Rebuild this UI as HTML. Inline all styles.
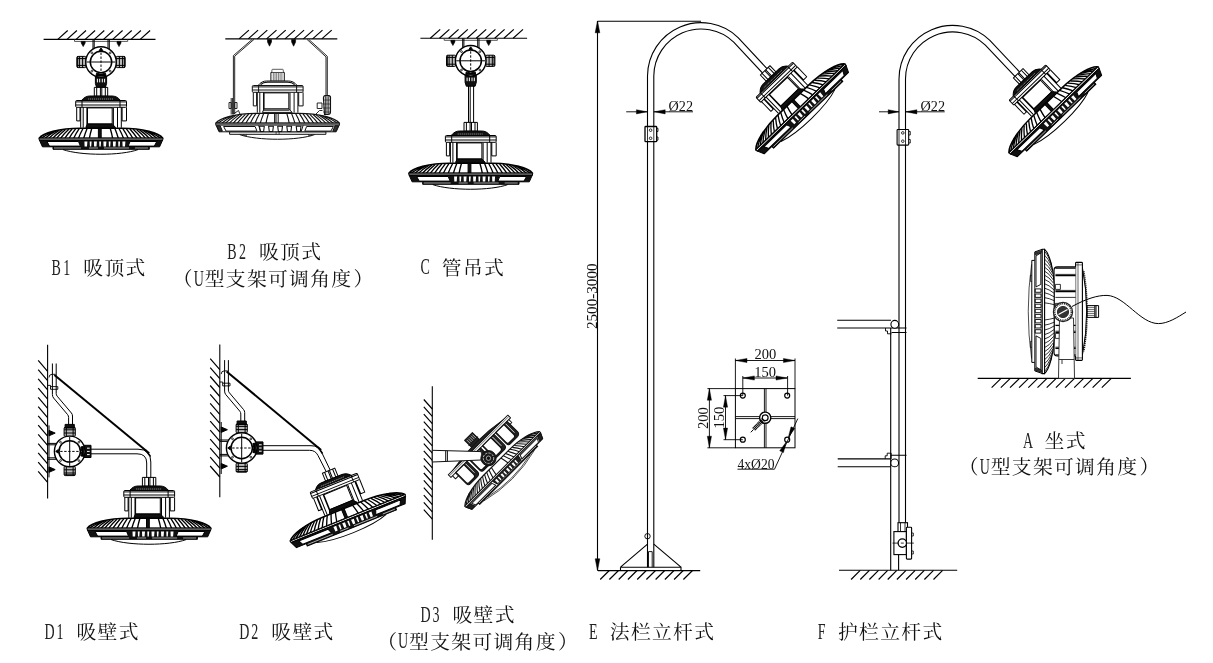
<!DOCTYPE html><html lang="zh"><head><meta charset="utf-8"><title>安装方式</title><style>html,body{margin:0;padding:0;background:#fff}svg{display:block}text{font-family:"Liberation Serif","Noto Serif CJK SC",serif;fill:#111}</style></head><body><svg width="1213" height="663" viewBox="0 0 1213 663"><rect width="100%" height="100%" fill="#fff"/><g stroke="#000" stroke-width="1.1" fill="none"><path d="M43.6 39.4H155.5"/><path d="M57.8 39.4l9.9 -8.9M67.0 39.4l9.9 -8.9M76.1 39.4l9.9 -8.9M85.2 39.4l9.9 -8.9M94.4 39.4l9.9 -8.9M103.5 39.4l9.9 -8.9M112.7 39.4l9.9 -8.9M121.8 39.4l9.9 -8.9M131.0 39.4l9.9 -8.9M140.2 39.4l9.9 -8.9" stroke-width="1.2"/></g><g fill="none" stroke="#000" stroke-width="1"><path d="M74.5 39.699999999999996V41.4H127.7V39.699999999999996" stroke="#555"/><path d="M81.2 41.4H85.2V43.0L83.2 46.6L81.2 43.0Z" fill="#000" stroke-width="0.6"/><path d="M117 41.4H121V43.0L119 46.6L117 43.0Z" fill="#000" stroke-width="0.6"/><path d="M93 39.4V50M94.2 39.4V49M108 39.4V49M109.3 39.4V50"/></g><g transform="translate(101 62)" fill="none" stroke="#000" stroke-width="1"><g transform="scale(-1,1)"><rect x="15" y="-5.6" width="9.2" height="11.2" fill="#bbb" rx="1.2"/><path d="M23.4-5.6V5.6M21.6-5.6V5.6M18.4-5.6V5.6M15 -3.4H24M15 3.4H24"/></g><g transform="scale(1,1)"><rect x="15" y="-5.6" width="9.2" height="11.2" fill="#bbb" rx="1.2"/><path d="M23.4-5.6V5.6M21.6-5.6V5.6M18.4-5.6V5.6M15 -3.4H24M15 3.4H24"/></g><path d="M-5.6 11.5H5.6V21.5L4.4 25.4H-4.4L-5.6 21.5Z" fill="#111"/><path d="M-3.6 16.8V20.4M-1.3 16.8V20.4M1.3 16.8V20.4M3.6 16.8V20.4" stroke="#fff" stroke-width="1"/><circle r="15.3" fill="#fff" stroke-width="1.4"/><circle r="10.7" stroke-width="1.5"/><path d="M-14.5 0H14.5"/><path d="M0-9.5V9.5" stroke-dasharray="2.4 1.6"/><circle cx="9.2" cy="9.2" r="0.9" stroke-width="0.8"/><circle cx="-9.2" cy="9.2" r="0.9" stroke-width="0.8"/><circle cx="-9.2" cy="-9.2" r="0.9" stroke-width="0.8"/><circle cx="9.2" cy="-9.2" r="0.9" stroke-width="0.8"/><path d="M-1.8-11.4L0-14L1.8-11.4Z" fill="#000"/><path d="M-4.5 11.2A12 12 0 0 0 4.5 11.2L5 14H-5Z" fill="#000"/></g><g transform="translate(101 138.2)" fill="none" stroke="#000" stroke-width="1.0" stroke-linejoin="round"><rect x="-6.7" y="-50.8" width="13.4" height="8.9" fill="#fff"/><path d="M-4.3-50.8V-42M-0.6-50.8V-42M0.8-50.8V-42M4.3-50.8V-42"/><path d="M-19.5-37.7C-17-41 -14-42.2 -11-42.2H11C14-42.2 17-41 19.5-37.7Z" fill="#111"/><path d="M-13-39.2H12" stroke="#fff" stroke-width="0.5" stroke-dasharray="1.2 0.8"/><rect x="-25.3" y="-37.7" width="50.8" height="6.8" rx="1" fill="#fff"/><path d="M-25.3-36.3H25.5M-25.3-33.2H25.5M-19-37.7V-30.9M19-37.7V-30.9"/><path d="M-24.3-30.9V-17.3H-21V-30.9M-20.3-30.9V-10.5M-17.8-30.9V-10.5M-14.1-30.9V-11M-13.5-30.3V-14.2H11.2V-30.3Z" /><path d="M25.5-30.9V-17.3H21.1V-30.9M20.3-30.9V-10.5M16.5-30.9V-10.5M12.4-30.3V-11"/><path d="M-15.2-10.8L-13.5-14.2H11.2L14.6-10.8Z" fill="#111"/><path d="M-61.8 0C-58-5 -42-9.9 -21-9.9H21C42-9.9 58-5 61.8 0Z" fill="#fff" stroke-width="1.60"/><path d="M-9.2 -9.9Q-10.8 -4.4 -11.6 0M9.2 -9.9Q10.8 -4.4 11.6 0M-13.9 -9.8Q-16.1 -4.4 -17.3 0M13.9 -9.8Q16.1 -4.4 17.3 0M-18.0 -9.7Q-20.9 -4.4 -22.5 0M18.0 -9.7Q20.9 -4.4 22.5 0M-21.8 -9.6Q-25.4 -4.3 -27.3 0M21.8 -9.6Q25.4 -4.3 27.3 0M-25.4 -9.4Q-29.6 -4.2 -31.8 0M25.4 -9.4Q29.6 -4.2 31.8 0M-28.9 -9.2Q-33.6 -4.1 -36.1 0M28.9 -9.2Q33.6 -4.1 36.1 0M-32.2 -8.9Q-37.5 -4.0 -40.3 0M32.2 -8.9Q37.5 -4.0 40.3 0M-35.5 -8.7Q-41.2 -3.9 -44.3 0M35.5 -8.7Q41.2 -3.9 44.3 0M-38.6 -8.3Q-44.9 -3.7 -48.2 0M38.6 -8.3Q44.9 -3.7 48.2 0M-41.7 -7.9Q-48.4 -3.6 -52.1 0M41.7 -7.9Q48.4 -3.6 52.1 0M-44.7 -7.5Q-51.9 -3.4 -55.8 0M44.7 -7.5Q51.9 -3.4 55.8 0M-47.6 -6.9Q-55.3 -3.1 -59.5 0M47.6 -6.9Q55.3 -3.1 59.5 0" stroke-width="1.35"/><path d="M-2.6-10V0H0.2V-10Z" fill="#111"/><rect x="-61.8" y="0" width="123.6" height="1.9" fill="#fff"/><path d="M-61.6 1.9L-58.6 8.6H-48V11.1H48.3V8.6H58.6L61.6 1.9Z" fill="#111"/><path d="M-54 3.3H-22.5L-20.6 7.9H-51.5Z" fill="#fff"/><path d="M29 3.3H55.8L53.3 7.9H27.2Z" fill="#fff"/><path d="M-16.6 3.2h3.0l-0.4 5h-2.4zM-11.3 3.2h1.9l-0.4 5h-1.3zM-7.1 3.2h3.0l-0.4 5h-2.4zM-1.8 3.2h1.9l-0.4 5h-1.3zM2.4 3.2h3.0l-0.4 5h-2.4zM7.7 3.2h1.9l-0.4 5h-1.3zM11.9 3.2h3.0l-0.4 5h-2.4zM17.2 3.2h1.9l-0.4 5h-1.3zM21.4 3.2h3.0l-0.4 5h-2.4z" fill="#fff" stroke="none"/><path d="M-47 9.8H-20M-12 9.8H-3M3 9.8H28M34 9.8H47" stroke="#fff" stroke-width="0.6"/><path d="M-38 11.4C-20 17.6 20 17.6 37 11.4"/></g><g stroke="#000" stroke-width="1.1" fill="none"><path d="M225.3 38.9H337.3"/><path d="M239.0 38.9l9.9 -8.8M248.2 38.9l9.9 -8.8M257.4 38.9l9.9 -8.8M266.6 38.9l9.9 -8.8M275.8 38.9l9.9 -8.8M285.0 38.9l9.9 -8.8M294.2 38.9l9.9 -8.8M303.4 38.9l9.9 -8.8M312.6 38.9l9.9 -8.8M321.8 38.9l9.9 -8.8" stroke-width="1.2"/><path d="M267.5 39.4H271.5V42L269.5 46.2L267.5 42ZM291.6 39.4H295.6V42L293.6 46.2L291.6 42Z" fill="#000" stroke-width="0.6"/></g><g transform="translate(277.6 123.2)" fill="none" stroke="#111" stroke-width="1.0" stroke-linejoin="round"><rect x="-6.7" y="-50.8" width="13.4" height="8.9" fill="#fff"/><path d="M-4.3-50.8V-42M-2.6-50.8V-42M-0.9-50.8V-42M0.8-50.8V-42M2.5-50.8V-42M4.3-50.8V-42" stroke="#777"/><path d="M-19.5-37.7C-17-41 -14-42.2 -11-42.2H11C14-42.2 17-41 19.5-37.7Z" fill="#fff"/><path d="M-17-38.6C-15-40.6 -13-41 -10-41H10C13-41 15-40.6 17-38.6" stroke-width="1.3"/><rect x="-25.3" y="-37.7" width="50.8" height="6.8" rx="1" fill="#fff"/><path d="M-25.3-36.3H25.5M-25.3-33.2H25.5M-19-37.7V-30.9M19-37.7V-30.9"/><path d="M-24.3-30.9V-17.3H-21V-30.9M-20.3-30.9V-10.5M-17.8-30.9V-10.5M-14.1-30.9V-11M-13.5-30.3V-14.2H11.2V-30.3Z" /><path d="M25.5-30.9V-17.3H21.1V-30.9M20.3-30.9V-10.5M16.5-30.9V-10.5M12.4-30.3V-11"/><path d="M-15.2-10.8L-13.5-14.2H11.2L14.6-10.8ZM-13.8-13H11.6" fill="#fff"/><path d="M-61.8 0C-58-5 -42-9.9 -21-9.9H21C42-9.9 58-5 61.8 0Z" fill="#fff" stroke-width="1.35"/><path d="M-9.2 -9.9Q-10.8 -4.4 -11.6 0M9.2 -9.9Q10.8 -4.4 11.6 0M-13.9 -9.8Q-16.1 -4.4 -17.3 0M13.9 -9.8Q16.1 -4.4 17.3 0M-18.0 -9.7Q-20.9 -4.4 -22.5 0M18.0 -9.7Q20.9 -4.4 22.5 0M-21.8 -9.6Q-25.4 -4.3 -27.3 0M21.8 -9.6Q25.4 -4.3 27.3 0M-25.4 -9.4Q-29.6 -4.2 -31.8 0M25.4 -9.4Q29.6 -4.2 31.8 0M-28.9 -9.2Q-33.6 -4.1 -36.1 0M28.9 -9.2Q33.6 -4.1 36.1 0M-32.2 -8.9Q-37.5 -4.0 -40.3 0M32.2 -8.9Q37.5 -4.0 40.3 0M-35.5 -8.7Q-41.2 -3.9 -44.3 0M35.5 -8.7Q41.2 -3.9 44.3 0M-38.6 -8.3Q-44.9 -3.7 -48.2 0M38.6 -8.3Q44.9 -3.7 48.2 0M-41.7 -7.9Q-48.4 -3.6 -52.1 0M41.7 -7.9Q48.4 -3.6 52.1 0M-44.7 -7.5Q-51.9 -3.4 -55.8 0M44.7 -7.5Q51.9 -3.4 55.8 0M-47.6 -6.9Q-55.3 -3.1 -59.5 0M47.6 -6.9Q55.3 -3.1 59.5 0" stroke-width="1.15"/><path d="M-3-10V0M-1.6-10V0M0.6-10V0"/><rect x="-61.8" y="0" width="123.6" height="1.9" fill="#fff"/><path d="M-61.6 1.9L-58.6 8.6H-48V11.1H48.3V8.6H58.6L61.6 1.9Z" fill="#fff"/><path d="M-60.8 2.6L-58.4 8H-55.2L-57.4 2.6ZM60.8 2.6L58.4 8H55.2L57.4 2.6Z" fill="#333"/><path d="M-48 8.6H48.3" stroke-width="1.3"/><path d="M-54 3.3H-22.5L-20.6 7.9H-51.5ZM29 3.3H55.8L53.3 7.9H27.2ZM-19 2.2L-16.8 8.5M25.5 2.2L23.5 8.5"/><path d="M-18.1 3.1h4.8l-0.7 5.2h-3.4zM-9.0 3.1h4.8l-0.7 5.2h-3.4zM0.1 3.1h4.8l-0.7 5.2h-3.4zM9.2 3.1h4.8l-0.7 5.2h-3.4zM18.6 3.1h4.8l-0.7 5.2h-3.4z" stroke-width="1.10"/><path d="M-34 11.1V12.4H-31V11.1M31 11.1V12.4H34V11.1M-1.5 8.6V11.1M1.5 8.6V11.1" stroke-width="0.7"/><path d="M-38 11.4C-20 17.6 20 17.6 37 11.4"/></g><g stroke="#333" stroke-width="0.8" fill="#fff"><rect x="271.9" y="69.3" width="11.4" height="3.2" rx="0.8"/></g><g stroke="#111" stroke-width="0.9" fill="none"><path d="M252.2 39.4L233.4 55.6V114M254 39.4L234.7 56.2V114"/><path d="M308.8 39.4L327.3 56.3V114M307 39.4L326 56.9V114"/><path d="M231.2 98V114.5M232.6 98V114.5M229 102.5H231.2V108.5H229ZM234.7 102.5H237V108.5H234.7ZM233 114.3L238.5 110.5L240 114.3" /><path d="M323.5 99.5Q323 96 325 95.5H329Q331 96 330.5 99V112Q330.5 114.5 328 114.5H324.5Z" fill="#fff" stroke-width="1.1"/><path d="M325.3 96V114M327 96V114M328.8 96V114" stroke-width="0.9"/><path d="M323 100H331M323 104H331M323 108H331M323 112H331" stroke-width="0.6"/><path d="M317.2 103H322V108.5H317.2ZM316 114L319.5 110.5H322.5"/></g><g stroke="#000" stroke-width="1.1" fill="none"><path d="M420.4 38.3H527.1"/><path d="M430.3 38.3l9.9 -8.9M439.5 38.3l9.9 -8.9M448.7 38.3l9.9 -8.9M457.9 38.3l9.9 -8.9M467.1 38.3l9.9 -8.9M476.3 38.3l9.9 -8.9M485.5 38.3l9.9 -8.9M494.7 38.3l9.9 -8.9M503.9 38.3l9.9 -8.9M513.1 38.3l9.9 -8.9" stroke-width="1.2"/></g><g fill="none" stroke="#000" stroke-width="1"><path d="M444.2 38.599999999999994V40.3H497.4V38.599999999999994" stroke="#555"/><path d="M450.9 40.3H454.9V41.9L452.9 45.5L450.9 41.9Z" fill="#000" stroke-width="0.6"/><path d="M486.7 40.3H490.7V41.9L488.7 45.5L486.7 41.9Z" fill="#000" stroke-width="0.6"/><path d="M462.7 38.3V48.8M463.9 38.3V47.8M477.7 38.3V47.8M479.0 38.3V48.8"/></g><g transform="translate(470.7 60.8)" fill="none" stroke="#000" stroke-width="1"><g transform="scale(-1,1)"><rect x="15" y="-5.6" width="9.2" height="11.2" fill="#bbb" rx="1.2"/><path d="M23.4-5.6V5.6M21.6-5.6V5.6M18.4-5.6V5.6M15 -3.4H24M15 3.4H24"/></g><g transform="scale(1,1)"><rect x="15" y="-5.6" width="9.2" height="11.2" fill="#bbb" rx="1.2"/><path d="M23.4-5.6V5.6M21.6-5.6V5.6M18.4-5.6V5.6M15 -3.4H24M15 3.4H24"/></g><path d="M-5.6 11.5H5.6V21.5L4.4 25.4H-4.4L-5.6 21.5Z" fill="#111"/><path d="M-3.6 16.8V20.4M-1.3 16.8V20.4M1.3 16.8V20.4M3.6 16.8V20.4" stroke="#fff" stroke-width="1"/><circle r="15.3" fill="#fff" stroke-width="1.4"/><circle r="10.7" stroke-width="1.5"/><path d="M-14.5 0H14.5"/><path d="M0-9.5V9.5" stroke-dasharray="2.4 1.6"/><circle cx="9.2" cy="9.2" r="0.9" stroke-width="0.8"/><circle cx="-9.2" cy="9.2" r="0.9" stroke-width="0.8"/><circle cx="-9.2" cy="-9.2" r="0.9" stroke-width="0.8"/><circle cx="9.2" cy="-9.2" r="0.9" stroke-width="0.8"/><path d="M-1.8-11.4L0-14L1.8-11.4Z" fill="#000"/><path d="M-4.5 11.2A12 12 0 0 0 4.5 11.2L5 14H-5Z" fill="#000"/></g><path d="M468.5 86V122.4M470.2 86V122.4M473.6 86V122.4" stroke="#000" stroke-width="1" fill="none"/><g transform="translate(470.7 173.2)" fill="none" stroke="#000" stroke-width="1.0" stroke-linejoin="round"><rect x="-6.7" y="-50.8" width="13.4" height="8.9" fill="#fff"/><path d="M-4.3-50.8V-42M-0.6-50.8V-42M0.8-50.8V-42M4.3-50.8V-42"/><path d="M-19.5-37.7C-17-41 -14-42.2 -11-42.2H11C14-42.2 17-41 19.5-37.7Z" fill="#111"/><path d="M-13-39.2H12" stroke="#fff" stroke-width="0.5" stroke-dasharray="1.2 0.8"/><rect x="-25.3" y="-37.7" width="50.8" height="6.8" rx="1" fill="#fff"/><path d="M-25.3-36.3H25.5M-25.3-33.2H25.5M-19-37.7V-30.9M19-37.7V-30.9"/><path d="M-24.3-30.9V-17.3H-21V-30.9M-20.3-30.9V-10.5M-17.8-30.9V-10.5M-14.1-30.9V-11M-13.5-30.3V-14.2H11.2V-30.3Z" /><path d="M25.5-30.9V-17.3H21.1V-30.9M20.3-30.9V-10.5M16.5-30.9V-10.5M12.4-30.3V-11"/><path d="M-15.2-10.8L-13.5-14.2H11.2L14.6-10.8Z" fill="#111"/><path d="M-61.8 0C-58-5 -42-9.9 -21-9.9H21C42-9.9 58-5 61.8 0Z" fill="#fff" stroke-width="1.60"/><path d="M-9.2 -9.9Q-10.8 -4.4 -11.6 0M9.2 -9.9Q10.8 -4.4 11.6 0M-13.9 -9.8Q-16.1 -4.4 -17.3 0M13.9 -9.8Q16.1 -4.4 17.3 0M-18.0 -9.7Q-20.9 -4.4 -22.5 0M18.0 -9.7Q20.9 -4.4 22.5 0M-21.8 -9.6Q-25.4 -4.3 -27.3 0M21.8 -9.6Q25.4 -4.3 27.3 0M-25.4 -9.4Q-29.6 -4.2 -31.8 0M25.4 -9.4Q29.6 -4.2 31.8 0M-28.9 -9.2Q-33.6 -4.1 -36.1 0M28.9 -9.2Q33.6 -4.1 36.1 0M-32.2 -8.9Q-37.5 -4.0 -40.3 0M32.2 -8.9Q37.5 -4.0 40.3 0M-35.5 -8.7Q-41.2 -3.9 -44.3 0M35.5 -8.7Q41.2 -3.9 44.3 0M-38.6 -8.3Q-44.9 -3.7 -48.2 0M38.6 -8.3Q44.9 -3.7 48.2 0M-41.7 -7.9Q-48.4 -3.6 -52.1 0M41.7 -7.9Q48.4 -3.6 52.1 0M-44.7 -7.5Q-51.9 -3.4 -55.8 0M44.7 -7.5Q51.9 -3.4 55.8 0M-47.6 -6.9Q-55.3 -3.1 -59.5 0M47.6 -6.9Q55.3 -3.1 59.5 0" stroke-width="1.35"/><path d="M-2.6-10V0H0.2V-10Z" fill="#111"/><rect x="-61.8" y="0" width="123.6" height="1.9" fill="#fff"/><path d="M-61.6 1.9L-58.6 8.6H-48V11.1H48.3V8.6H58.6L61.6 1.9Z" fill="#111"/><path d="M-54 3.3H-22.5L-20.6 7.9H-51.5Z" fill="#fff"/><path d="M29 3.3H55.8L53.3 7.9H27.2Z" fill="#fff"/><path d="M-16.6 3.2h3.0l-0.4 5h-2.4zM-11.3 3.2h1.9l-0.4 5h-1.3zM-7.1 3.2h3.0l-0.4 5h-2.4zM-1.8 3.2h1.9l-0.4 5h-1.3zM2.4 3.2h3.0l-0.4 5h-2.4zM7.7 3.2h1.9l-0.4 5h-1.3zM11.9 3.2h3.0l-0.4 5h-2.4zM17.2 3.2h1.9l-0.4 5h-1.3zM21.4 3.2h3.0l-0.4 5h-2.4z" fill="#fff" stroke="none"/><path d="M-47 9.8H-20M-12 9.8H-3M3 9.8H28M34 9.8H47" stroke="#fff" stroke-width="0.6"/><path d="M-38 11.4C-20 17.6 20 17.6 37 11.4"/></g><g stroke="#000" stroke-width="1.1" fill="none"><path d="M47.6 344.7V498.4"/><path d="M47.6 371.3l-9.4 -11M47.6 380.6l-9.4 -11M47.6 389.8l-9.4 -11M47.6 399.1l-9.4 -11M47.6 408.3l-9.4 -11M47.6 417.6l-9.4 -11M47.6 426.8l-9.4 -11M47.6 436.1l-9.4 -11M47.6 445.3l-9.4 -11M47.6 454.6l-9.4 -11M47.6 463.8l-9.4 -11M47.6 473.1l-9.4 -11M47.6 482.3l-9.4 -11" stroke-width="1.2"/></g><g stroke="#000" stroke-width="1" fill="none"><path d="M49.0 425.4V477.4" /><path d="M47.6 443.4H56.7M47.6 444.79999999999995H55.7M47.6 457.79999999999995H55.7M47.6 459.29999999999995H56.7"/><path d="M49.0 430.4L55.2 433.09999999999997L49.0 435.79999999999995Z" fill="#000"/><path d="M49.0 466.9L55.2 469.59999999999997L49.0 472.29999999999995Z" fill="#000"/></g><g stroke="#000" stroke-width="1" fill="none"><path d="M52.4 363.5V394.5Q52.4 396.5 53.6 398L67.6 414.6Q68.6 415.8 68.6 417.5V425M56.2 363.5V393.5Q56.2 395 57.2 396.2L71.4 413Q72.5 414.3 72.5 416V425"/><path d="M47.6 385.4H50.5V389.3H57.8V386.6H50.5" stroke-width="0.9"/><path d="M54.4 375.1L149.2 453.2" stroke-width="2"/><path d="M49 377.5Q49 374.3 52 374.3H55.5" stroke-width="0.9"/><path d="M90.6 449.2H138Q150.8 449.2 150.8 462V478M90.6 453.8H137Q146.7 453.8 146.7 463V478"/><path d="M145.5 450L150.5 456.5" stroke-width="1.6"/></g><g transform="translate(69.7 451.4) rotate(-90)" fill="none" stroke="#000" stroke-width="1"><g transform="scale(-1,1)"><rect x="15" y="-5.6" width="9.2" height="11.2" fill="#bbb" rx="1.2"/><path d="M23.4-5.6V5.6M21.6-5.6V5.6M18.4-5.6V5.6M15 -3.4H24M15 3.4H24"/></g><g transform="scale(1,1)"><rect x="15" y="-5.6" width="9.2" height="11.2" fill="#bbb" rx="1.2"/><path d="M23.4-5.6V5.6M21.6-5.6V5.6M18.4-5.6V5.6M15 -3.4H24M15 3.4H24"/></g><path d="M-6.1 12H6.1V21.3H-6.1Z" fill="#111"/><path d="M-3.2 17.3V20M0 17.3V20M3.2 17.3V20" stroke="#fff" stroke-width="1"/><path d="M23.8-4.6H27V4.6H23.8Z" fill="#111"/><circle r="15.3" fill="#fff" stroke-width="1.4"/><circle r="10.7" stroke-width="1.5"/><path d="M-14.5 0H14.5"/><path d="M0-9.5V9.5" stroke-dasharray="2.4 1.6"/><circle cx="9.2" cy="9.2" r="0.9" stroke-width="0.8"/><circle cx="-9.2" cy="9.2" r="0.9" stroke-width="0.8"/><circle cx="-9.2" cy="-9.2" r="0.9" stroke-width="0.8"/><circle cx="9.2" cy="-9.2" r="0.9" stroke-width="0.8"/><path d="M-1.8-11.4L0-14L1.8-11.4Z" fill="#000"/><path d="M-4.5 11.2A12 12 0 0 0 4.5 11.2L5 14H-5Z" fill="#000"/></g><g transform="translate(149.1 528.2)" fill="none" stroke="#000" stroke-width="1.0" stroke-linejoin="round"><rect x="-6.7" y="-50.8" width="13.4" height="8.9" fill="#fff"/><path d="M-4.3-50.8V-42M-0.6-50.8V-42M0.8-50.8V-42M4.3-50.8V-42"/><path d="M-19.5-37.7C-17-41 -14-42.2 -11-42.2H11C14-42.2 17-41 19.5-37.7Z" fill="#111"/><path d="M-13-39.2H12" stroke="#fff" stroke-width="0.5" stroke-dasharray="1.2 0.8"/><rect x="-25.3" y="-37.7" width="50.8" height="6.8" rx="1" fill="#fff"/><path d="M-25.3-36.3H25.5M-25.3-33.2H25.5M-19-37.7V-30.9M19-37.7V-30.9"/><path d="M-24.3-30.9V-17.3H-21V-30.9M-20.3-30.9V-10.5M-17.8-30.9V-10.5M-14.1-30.9V-11M-13.5-30.3V-14.2H11.2V-30.3Z" /><path d="M25.5-30.9V-17.3H21.1V-30.9M20.3-30.9V-10.5M16.5-30.9V-10.5M12.4-30.3V-11"/><path d="M-15.2-10.8L-13.5-14.2H11.2L14.6-10.8Z" fill="#111"/><path d="M-61.8 0C-58-5 -42-9.9 -21-9.9H21C42-9.9 58-5 61.8 0Z" fill="#fff" stroke-width="1.60"/><path d="M-9.2 -9.9Q-10.8 -4.4 -11.6 0M9.2 -9.9Q10.8 -4.4 11.6 0M-13.9 -9.8Q-16.1 -4.4 -17.3 0M13.9 -9.8Q16.1 -4.4 17.3 0M-18.0 -9.7Q-20.9 -4.4 -22.5 0M18.0 -9.7Q20.9 -4.4 22.5 0M-21.8 -9.6Q-25.4 -4.3 -27.3 0M21.8 -9.6Q25.4 -4.3 27.3 0M-25.4 -9.4Q-29.6 -4.2 -31.8 0M25.4 -9.4Q29.6 -4.2 31.8 0M-28.9 -9.2Q-33.6 -4.1 -36.1 0M28.9 -9.2Q33.6 -4.1 36.1 0M-32.2 -8.9Q-37.5 -4.0 -40.3 0M32.2 -8.9Q37.5 -4.0 40.3 0M-35.5 -8.7Q-41.2 -3.9 -44.3 0M35.5 -8.7Q41.2 -3.9 44.3 0M-38.6 -8.3Q-44.9 -3.7 -48.2 0M38.6 -8.3Q44.9 -3.7 48.2 0M-41.7 -7.9Q-48.4 -3.6 -52.1 0M41.7 -7.9Q48.4 -3.6 52.1 0M-44.7 -7.5Q-51.9 -3.4 -55.8 0M44.7 -7.5Q51.9 -3.4 55.8 0M-47.6 -6.9Q-55.3 -3.1 -59.5 0M47.6 -6.9Q55.3 -3.1 59.5 0" stroke-width="1.35"/><path d="M-2.6-10V0H0.2V-10Z" fill="#111"/><rect x="-61.8" y="0" width="123.6" height="1.9" fill="#fff"/><path d="M-61.6 1.9L-58.6 8.6H-48V11.1H48.3V8.6H58.6L61.6 1.9Z" fill="#111"/><path d="M-54 3.3H-22.5L-20.6 7.9H-51.5Z" fill="#fff"/><path d="M29 3.3H55.8L53.3 7.9H27.2Z" fill="#fff"/><path d="M-16.6 3.2h3.0l-0.4 5h-2.4zM-11.3 3.2h1.9l-0.4 5h-1.3zM-7.1 3.2h3.0l-0.4 5h-2.4zM-1.8 3.2h1.9l-0.4 5h-1.3zM2.4 3.2h3.0l-0.4 5h-2.4zM7.7 3.2h1.9l-0.4 5h-1.3zM11.9 3.2h3.0l-0.4 5h-2.4zM17.2 3.2h1.9l-0.4 5h-1.3zM21.4 3.2h3.0l-0.4 5h-2.4z" fill="#fff" stroke="none"/><path d="M-47 9.8H-20M-12 9.8H-3M3 9.8H28M34 9.8H47" stroke="#fff" stroke-width="0.6"/><path d="M-38 11.4C-20 17.6 20 17.6 37 11.4"/></g><g stroke="#000" stroke-width="1.1" fill="none"><path d="M219.8 344.6V497.3"/><path d="M219.8 369.6l-9.6 -11M219.8 378.6l-9.6 -11M219.8 387.5l-9.6 -11M219.8 396.5l-9.6 -11M219.8 405.4l-9.6 -11M219.8 414.4l-9.6 -11M219.8 423.3l-9.6 -11M219.8 432.2l-9.6 -11M219.8 441.2l-9.6 -11M219.8 450.2l-9.6 -11M219.8 459.1l-9.6 -11M219.8 468.1l-9.6 -11M219.8 477.0l-9.6 -11" stroke-width="1.2"/></g><g stroke="#000" stroke-width="1" fill="none"><path d="M221.20000000000002 422V474" /><path d="M219.8 440H228.7M219.8 441.4H227.7M219.8 454.4H227.7M219.8 455.9H228.7"/><path d="M221.20000000000002 427.0L227.4 429.7L221.20000000000002 432.4Z" fill="#000"/><path d="M221.20000000000002 463.5L227.4 466.2L221.20000000000002 468.9Z" fill="#000"/></g><g stroke="#000" stroke-width="1" fill="none"><g transform="translate(172.2 -3.4)"><path d="M52.4 363.5V394.5Q52.4 396.5 53.6 398L67.6 414.6Q68.6 415.8 68.6 417.5V425M56.2 363.5V393.5Q56.2 395 57.2 396.2L71.4 413Q72.5 414.3 72.5 416V425"/><path d="M47.6 385.4H50.5V389.3H57.8V386.6H50.5" stroke-width="0.9"/><path d="M49 377.5Q49 374.3 52 374.3H55.5" stroke-width="0.9"/></g><path d="M226.6 371.5L321.1 449.9" stroke-width="2"/><path d="M262.6 445.7H311Q318.5 445.7 321.5 452L330.8 471.4M262.6 450.3H309.5Q315.5 450.3 318 455.5L327 473.2"/><path d="M318 447L322.5 453.5" stroke-width="1.6"/></g><g transform="translate(241.7 448) rotate(-90)" fill="none" stroke="#000" stroke-width="1"><g transform="scale(-1,1)"><rect x="15" y="-5.6" width="9.2" height="11.2" fill="#bbb" rx="1.2"/><path d="M23.4-5.6V5.6M21.6-5.6V5.6M18.4-5.6V5.6M15 -3.4H24M15 3.4H24"/></g><g transform="scale(1,1)"><rect x="15" y="-5.6" width="9.2" height="11.2" fill="#bbb" rx="1.2"/><path d="M23.4-5.6V5.6M21.6-5.6V5.6M18.4-5.6V5.6M15 -3.4H24M15 3.4H24"/></g><path d="M-6.1 12H6.1V21.3H-6.1Z" fill="#111"/><path d="M-3.2 17.3V20M0 17.3V20M3.2 17.3V20" stroke="#fff" stroke-width="1"/><path d="M23.8-4.6H27V4.6H23.8Z" fill="#111"/><circle r="15.3" fill="#fff" stroke-width="1.4"/><circle r="10.7" stroke-width="1.5"/><path d="M-14.5 0H14.5"/><path d="M0-9.5V9.5" stroke-dasharray="2.4 1.6"/><circle cx="9.2" cy="9.2" r="0.9" stroke-width="0.8"/><circle cx="-9.2" cy="9.2" r="0.9" stroke-width="0.8"/><circle cx="-9.2" cy="-9.2" r="0.9" stroke-width="0.8"/><circle cx="9.2" cy="-9.2" r="0.9" stroke-width="0.8"/><path d="M-1.8-11.4L0-14L1.8-11.4Z" fill="#000"/><path d="M-4.5 11.2A12 12 0 0 0 4.5 11.2L5 14H-5Z" fill="#000"/></g><g transform="translate(347.6 517.7) rotate(-22)" fill="none" stroke="#000" stroke-width="1.0" stroke-linejoin="round"><rect x="-6.7" y="-50.8" width="13.4" height="8.9" fill="#fff"/><path d="M-4.3-50.8V-42M-0.6-50.8V-42M0.8-50.8V-42M4.3-50.8V-42"/><path d="M-19.5-37.7C-17-41 -14-42.2 -11-42.2H11C14-42.2 17-41 19.5-37.7Z" fill="#111"/><path d="M-13-39.2H12" stroke="#fff" stroke-width="0.5" stroke-dasharray="1.2 0.8"/><rect x="-25.3" y="-37.7" width="50.8" height="6.8" rx="1" fill="#fff"/><path d="M-25.3-36.3H25.5M-25.3-33.2H25.5M-19-37.7V-30.9M19-37.7V-30.9"/><path d="M-24.3-30.9V-17.3H-21V-30.9M-20.3-30.9V-10.5M-17.8-30.9V-10.5M-14.1-30.9V-11M-13.5-30.3V-14.2H11.2V-30.3Z" /><path d="M25.5-30.9V-17.3H21.1V-30.9M20.3-30.9V-10.5M16.5-30.9V-10.5M12.4-30.3V-11"/><path d="M-15.2-10.8L-13.5-14.2H11.2L14.6-10.8Z" fill="#111"/><path d="M-61.8 0C-58-5 -42-9.9 -21-9.9H21C42-9.9 58-5 61.8 0Z" fill="#fff" stroke-width="1.60"/><path d="M-9.2 -9.9Q-10.8 -4.4 -11.6 0M9.2 -9.9Q10.8 -4.4 11.6 0M-13.9 -9.8Q-16.1 -4.4 -17.3 0M13.9 -9.8Q16.1 -4.4 17.3 0M-18.0 -9.7Q-20.9 -4.4 -22.5 0M18.0 -9.7Q20.9 -4.4 22.5 0M-21.8 -9.6Q-25.4 -4.3 -27.3 0M21.8 -9.6Q25.4 -4.3 27.3 0M-25.4 -9.4Q-29.6 -4.2 -31.8 0M25.4 -9.4Q29.6 -4.2 31.8 0M-28.9 -9.2Q-33.6 -4.1 -36.1 0M28.9 -9.2Q33.6 -4.1 36.1 0M-32.2 -8.9Q-37.5 -4.0 -40.3 0M32.2 -8.9Q37.5 -4.0 40.3 0M-35.5 -8.7Q-41.2 -3.9 -44.3 0M35.5 -8.7Q41.2 -3.9 44.3 0M-38.6 -8.3Q-44.9 -3.7 -48.2 0M38.6 -8.3Q44.9 -3.7 48.2 0M-41.7 -7.9Q-48.4 -3.6 -52.1 0M41.7 -7.9Q48.4 -3.6 52.1 0M-44.7 -7.5Q-51.9 -3.4 -55.8 0M44.7 -7.5Q51.9 -3.4 55.8 0M-47.6 -6.9Q-55.3 -3.1 -59.5 0M47.6 -6.9Q55.3 -3.1 59.5 0" stroke-width="1.35"/><path d="M-2.6-10V0H0.2V-10Z" fill="#111"/><rect x="-61.8" y="0" width="123.6" height="1.9" fill="#fff"/><path d="M-61.6 1.9L-58.6 8.6H-48V11.1H48.3V8.6H58.6L61.6 1.9Z" fill="#111"/><path d="M-54 3.3H-22.5L-20.6 7.9H-51.5Z" fill="#fff"/><path d="M29 3.3H55.8L53.3 7.9H27.2Z" fill="#fff"/><path d="M-16.6 3.2h3.0l-0.4 5h-2.4zM-11.3 3.2h1.9l-0.4 5h-1.3zM-7.1 3.2h3.0l-0.4 5h-2.4zM-1.8 3.2h1.9l-0.4 5h-1.3zM2.4 3.2h3.0l-0.4 5h-2.4zM7.7 3.2h1.9l-0.4 5h-1.3zM11.9 3.2h3.0l-0.4 5h-2.4zM17.2 3.2h1.9l-0.4 5h-1.3zM21.4 3.2h3.0l-0.4 5h-2.4z" fill="#fff" stroke="none"/><path d="M-47 9.8H-20M-12 9.8H-3M3 9.8H28M34 9.8H47" stroke="#fff" stroke-width="0.6"/><path d="M-38 11.4C-20 17.6 20 17.6 37 11.4"/></g><g stroke="#000" stroke-width="1.1" fill="none"><path d="M432.3 386.3V539.8"/><path d="M432.3 409.0l-8.5 -9.5M432.3 416.4l-8.5 -9.5M432.3 423.7l-8.5 -9.5M432.3 431.1l-8.5 -9.5M432.3 438.4l-8.5 -9.5M432.3 445.8l-8.5 -9.5M432.3 453.1l-8.5 -9.5M432.3 460.4l-8.5 -9.5M432.3 467.8l-8.5 -9.5M432.3 475.1l-8.5 -9.5M432.3 482.5l-8.5 -9.5M432.3 489.9l-8.5 -9.5M432.3 497.2l-8.5 -9.5M432.3 504.6l-8.5 -9.5M432.3 511.9l-8.5 -9.5M432.3 519.2l-8.5 -9.5" stroke-width="1.2"/></g><g transform="translate(502.2 468.9) rotate(-45)"><g fill="none" stroke="#111" stroke-width="0.95" stroke-linejoin="round"><path d="M-6.4-46.8H4.6V-36H-6.4Z" fill="#222"/><path d="M-4.6-45.4V-40M-2.6-45.4V-40M-0.6-45.4V-40M1.4-45.4V-40M3.2-45.4V-40" stroke="#ddd" stroke-width="0.7"/><path d="M-7.4-40H5.6" stroke-width="1"/><path d="M-37-33.8Q0-40.5 37-33.8Z" fill="#222"/><rect x="-42.3" y="-34" width="84.3" height="3.8" fill="#fff" stroke-width="1"/><path d="M-42-32.4H42" stroke-width="0.6"/><path d="M-52.8 0C-49-4 -36-8.6 -18-8.6H18C36-8.6 49-4 52.8 0Z" fill="#fff" stroke-width="1.2"/><path d="M-6.7 -8.6Q-7.8 -3.9 -8.4 0M6.7 -8.6Q7.8 -3.9 8.4 0M-10.2 -8.5Q-11.9 -3.8 -12.8 0M10.2 -8.5Q11.9 -3.8 12.8 0M-13.4 -8.5Q-15.6 -3.8 -16.8 0M13.4 -8.5Q15.6 -3.8 16.8 0M-16.5 -8.4Q-19.2 -3.8 -20.6 0M16.5 -8.4Q19.2 -3.8 20.6 0M-19.4 -8.3Q-22.6 -3.7 -24.3 0M19.4 -8.3Q22.6 -3.7 24.3 0M-22.3 -8.1Q-25.9 -3.7 -27.9 0M22.3 -8.1Q25.9 -3.7 27.9 0M-25.1 -8.0Q-29.2 -3.6 -31.4 0M25.1 -8.0Q29.2 -3.6 31.4 0M-27.8 -7.7Q-32.3 -3.5 -34.8 0M27.8 -7.7Q32.3 -3.5 34.8 0M-30.5 -7.5Q-35.4 -3.4 -38.1 0M30.5 -7.5Q35.4 -3.4 38.1 0M-33.1 -7.2Q-38.5 -3.2 -41.4 0M33.1 -7.2Q38.5 -3.2 41.4 0M-35.7 -6.9Q-41.5 -3.1 -44.6 0M35.7 -6.9Q41.5 -3.1 44.6 0M-38.3 -6.5Q-44.5 -2.9 -47.8 0M38.3 -6.5Q44.5 -2.9 47.8 0M-40.8 -6.0Q-47.4 -2.7 -51.0 0M40.8 -6.0Q47.4 -2.7 51.0 0" stroke-width="1.1"/><path d="M-35.8-30.2V-15Q-35.8-12 -32.8-12H-22.5Q-19.4-12.5 -19.4-15.5V-30.2Z" fill="#222"/><path d="M-35.2-30.2V-16Q-35.2-13.6 -32.8-13.6H-26.4Q-24.0-13.6 -24.0-16V-30.2Z" fill="#fff" stroke-width="1.2"/><path d="M-22.3-29.5V-17" stroke="#fff" stroke-width="0.8"/><path d="M-16.8-30.2V-15Q-16.8-12 -13.8-12H-3.5Q-0.4-12.5 -0.4-15.5V-30.2Z" fill="#222"/><path d="M-16.2-30.2V-16Q-16.2-13.6 -13.8-13.6H-7.4Q-5.0-13.6 -5.0-16V-30.2Z" fill="#fff" stroke-width="1.2"/><path d="M-3.3-29.5V-17" stroke="#fff" stroke-width="0.8"/><path d="M2.2-30.2V-15Q2.2-12 5.2-12H15.5Q18.6-12.5 18.6-15.5V-30.2Z" fill="#222"/><path d="M2.8-30.2V-16Q2.8-13.6 5.2-13.6H11.6Q14.0-13.6 14.0-16V-30.2Z" fill="#fff" stroke-width="1.2"/><path d="M15.7-29.5V-17" stroke="#fff" stroke-width="0.8"/><path d="M20.8-30.2V-15Q20.8-12 23.8-12H34.1Q37.2-12.5 37.2-15.5V-30.2Z" fill="#222"/><path d="M21.4-30.2V-16Q21.4-13.6 23.8-13.6H30.2Q32.6-13.6 32.6-16V-30.2Z" fill="#fff" stroke-width="1.2"/><path d="M34.3-29.5V-17" stroke="#fff" stroke-width="0.8"/><path d="M-40-30.2V-26H-35.4M39.6-30.2V-26H37"/><rect x="-52.8" y="0" width="105.6" height="1.7" fill="#fff"/><path d="M-52.6 1.7L-50 7.3H-41V9.2H41V7.3H50L52.6 1.7Z" fill="#fff"/><path d="M-52.4 1.9L-50 7H-45.5L-47.5 2.2ZM52.4 1.9L50 7H46L47.8 2.2Z" fill="#222"/><path d="M-46 2.9H-17.5L-16 6.9H-44ZM22.5 2.9H46.5L44.5 6.9H21Z" fill="#fff"/><path d="M-15.5 2.4H20.5L19.5 7.3H-14Z" fill="#222"/><path d="M-13.2 3h2.3l-0.3 3.9h-1.8zM-9.3 3h1.7l-0.3 3.9h-1.2zM-5.4 3h2.3l-0.3 3.9h-1.8zM-1.5 3h1.7l-0.3 3.9h-1.2zM2.4 3h2.3l-0.3 3.9h-1.8zM6.3 3h1.7l-0.3 3.9h-1.2zM10.2 3h2.3l-0.3 3.9h-1.8zM14.1 3h1.7l-0.3 3.9h-1.2z" fill="#fff" stroke="none"/><path d="M-41 8.4H41" stroke-width="1.2"/><path d="M-36 9.6Q0 18.8 36 9.6M-30 9.6Q0 16.5 30 9.6" stroke-width="0.7"/></g></g><g stroke="#111" stroke-width="1" fill="#fff"><path d="M432.3 450.3L481 451.6Q484 456 481 460L432.3 462Z"/><path d="M445.7 450.6V461.5M447.4 450.7V461.4" fill="none"/><circle cx="488.5" cy="458.2" r="7.6" fill="#1a1a1a" stroke="#111"/><circle cx="488.5" cy="458.2" r="5.2" fill="none" stroke="#eee" stroke-width="0.8" stroke-dasharray="2.2 1.2"/><circle cx="488.5" cy="458.2" r="2.2" fill="#111" stroke="#ddd" stroke-width="0.7"/></g><g stroke="#000" stroke-width="1.1" fill="none"><path d="M597.5 21V570.6M597.5 21.3H701"/><path d="M597.5 21L595.2 32.8H599.8ZM597.5 570.6L595.2 558.8H599.8Z" fill="#000" stroke-width="0.5"/><path d="M597.9 570.6H700.2"/><path d="M609.3 570.5l-9.1 9M618.5 570.5l-9.1 9M627.8 570.5l-9.1 9M637.0 570.5l-9.1 9M646.3 570.5l-9.1 9M655.5 570.5l-9.1 9M664.7 570.5l-9.1 9M674.0 570.5l-9.1 9M683.2 570.5l-9.1 9M692.5 570.5l-9.1 9" stroke-width="1.2"/></g><g stroke="#000" stroke-width="1.1" fill="none"><path d="M647.50 567.2V76.1A53.55 53.55 0 0 1 738.10 37.58L768.59 70.33M653.80 567.2V76.1A47.25 47.25 0 0 1 733.72 42.11L764.21 74.87"/><path d="M626.2 111.8H647.5M653.8 111.8H693" stroke-width="0.9"/><path d="M647.3 111.8L636.4 109.7V113.9ZM654 111.8L665.2 109.7V113.9Z" fill="#000" stroke-width="0.4"/><rect x="645" y="126.5" width="11.7" height="15.2" rx="0.8" fill="#fff" stroke-width="1.3"/><path d="M647.5 126.5V141.7M653.8 126.5V141.7M656.7 128.3H658V131.5H656.7M656.7 137H658V140.2H656.7" stroke-width="0.8"/><circle cx="650.6" cy="130.2" r="1.3" stroke-width="0.8"/><circle cx="650.6" cy="138.3" r="1.3" stroke-width="0.8"/><path d="M620.5 567.2H681V570.6M620.5 567.2V570.6M620.5 567.2L647.5 544.1M681 567.2L653.8 544.1"/><path d="M648.5 567.2V551.6H652.2V567.2" stroke-width="0.9"/><circle cx="647.5" cy="536.2" r="2.7" fill="none" stroke-width="0.9"/></g><g transform="translate(800.4 106.9) rotate(-44)" fill="none" stroke="#000" stroke-width="1.0" stroke-linejoin="round"><rect x="-6.7" y="-50.8" width="13.4" height="8.9" fill="#fff"/><path d="M-4.3-50.8V-42M-0.6-50.8V-42M0.8-50.8V-42M4.3-50.8V-42"/><path d="M-19.5-37.7C-17-41 -14-42.2 -11-42.2H11C14-42.2 17-41 19.5-37.7Z" fill="#111"/><path d="M-13-39.2H12" stroke="#fff" stroke-width="0.5" stroke-dasharray="1.2 0.8"/><rect x="-25.3" y="-37.7" width="50.8" height="6.8" rx="1" fill="#fff"/><path d="M-25.3-36.3H25.5M-25.3-33.2H25.5M-19-37.7V-30.9M19-37.7V-30.9"/><path d="M-24.3-30.9V-17.3H-21V-30.9M-20.3-30.9V-10.5M-17.8-30.9V-10.5M-14.1-30.9V-11M-13.5-30.3V-14.2H11.2V-30.3Z" /><path d="M25.5-30.9V-17.3H21.1V-30.9M20.3-30.9V-10.5M16.5-30.9V-10.5M12.4-30.3V-11"/><path d="M-15.2-10.8L-13.5-14.2H11.2L14.6-10.8Z" fill="#111"/><path d="M-61.8 0C-58-5 -42-9.9 -21-9.9H21C42-9.9 58-5 61.8 0Z" fill="#fff" stroke-width="1.60"/><path d="M-9.2 -9.9Q-10.8 -4.4 -11.6 0M9.2 -9.9Q10.8 -4.4 11.6 0M-13.9 -9.8Q-16.1 -4.4 -17.3 0M13.9 -9.8Q16.1 -4.4 17.3 0M-18.0 -9.7Q-20.9 -4.4 -22.5 0M18.0 -9.7Q20.9 -4.4 22.5 0M-21.8 -9.6Q-25.4 -4.3 -27.3 0M21.8 -9.6Q25.4 -4.3 27.3 0M-25.4 -9.4Q-29.6 -4.2 -31.8 0M25.4 -9.4Q29.6 -4.2 31.8 0M-28.9 -9.2Q-33.6 -4.1 -36.1 0M28.9 -9.2Q33.6 -4.1 36.1 0M-32.2 -8.9Q-37.5 -4.0 -40.3 0M32.2 -8.9Q37.5 -4.0 40.3 0M-35.5 -8.7Q-41.2 -3.9 -44.3 0M35.5 -8.7Q41.2 -3.9 44.3 0M-38.6 -8.3Q-44.9 -3.7 -48.2 0M38.6 -8.3Q44.9 -3.7 48.2 0M-41.7 -7.9Q-48.4 -3.6 -52.1 0M41.7 -7.9Q48.4 -3.6 52.1 0M-44.7 -7.5Q-51.9 -3.4 -55.8 0M44.7 -7.5Q51.9 -3.4 55.8 0M-47.6 -6.9Q-55.3 -3.1 -59.5 0M47.6 -6.9Q55.3 -3.1 59.5 0" stroke-width="1.35"/><path d="M-2.6-10V0H0.2V-10Z" fill="#111"/><rect x="-61.8" y="0" width="123.6" height="1.9" fill="#fff"/><path d="M-61.6 1.9L-58.6 8.6H-48V11.1H48.3V8.6H58.6L61.6 1.9Z" fill="#111"/><path d="M-54 3.3H-22.5L-20.6 7.9H-51.5Z" fill="#fff"/><path d="M29 3.3H55.8L53.3 7.9H27.2Z" fill="#fff"/><path d="M-16.6 3.2h3.0l-0.4 5h-2.4zM-11.3 3.2h1.9l-0.4 5h-1.3zM-7.1 3.2h3.0l-0.4 5h-2.4zM-1.8 3.2h1.9l-0.4 5h-1.3zM2.4 3.2h3.0l-0.4 5h-2.4zM7.7 3.2h1.9l-0.4 5h-1.3zM11.9 3.2h3.0l-0.4 5h-2.4zM17.2 3.2h1.9l-0.4 5h-1.3zM21.4 3.2h3.0l-0.4 5h-2.4z" fill="#fff" stroke="none"/><path d="M-47 9.8H-20M-12 9.8H-3M3 9.8H28M34 9.8H47" stroke="#fff" stroke-width="0.6"/><path d="M-38 11.4C-20 17.6 20 17.6 37 11.4"/></g><g stroke="#000" stroke-width="1" fill="none"><rect x="735.4" y="388.6" width="59.6" height="59.2"/><path d="M764.4 388.6V447.8M766 388.6V447.8M735.4 416.6H795M735.4 418.6H795" stroke-width="0.9"/><circle cx="742.8" cy="395.6" r="2.5" fill="#fff" stroke-width="1.2"/><circle cx="742.8" cy="439.7" r="2.5" fill="#fff" stroke-width="1.2"/><circle cx="787.2" cy="395.6" r="2.5" fill="#fff" stroke-width="1.2"/><circle cx="787.2" cy="439.7" r="2.5" fill="#fff" stroke-width="1.2"/><circle cx="765.2" cy="417.7" r="5.6" fill="#fff" stroke-width="1.4"/><circle cx="765.2" cy="417.7" r="2.9" stroke-width="1.2"/><path d="M763.5 419.5L753.5 429.5" stroke-width="4.4" stroke-dasharray="1 0.55"/><path d="M753.5 429.5L750.8 432.3"/><path d="M735.4 388.6V358.5M795 388.6V358.5M735.4 360.5H795M742.8 395.6V376M787.6 395.6V376M742.8 378H787.6" stroke-width="0.9"/><path d="M735.4 360.5L747 358.4V362.6ZM795 360.5L783.4 358.4V362.6ZM742.8 378L754.4 375.9V380.1ZM787.6 378L776 375.9V380.1Z" fill="#000" stroke-width="0.4"/><path d="M735.4 388.6H707.4M735.4 447.8H707.4M709.4 388.6V447.8M742.8 395.6H723.5M742.8 439.7H723.5M725.5 395.6V439.7" stroke-width="0.9"/><path d="M709.4 388.6L707.3 400.2H711.5ZM709.4 447.8L707.3 436.2H711.5ZM725.5 395.6L723.4 407.2H727.6ZM725.5 439.7L723.4 428.1H727.6Z" fill="#000" stroke-width="0.4"/><path d="M797.8 418.6L774.5 469.2H737.5" stroke-width="0.9"/><path d="M788.3 437.4L794.8 428.6L791 426.8ZM786.2 442L779.7 450.8L783.5 452.6Z" fill="#000" stroke-width="0.4"/></g><g stroke="#000" stroke-width="1.1" fill="none"><path d="M899.00 522.7V79A53.65 53.65 0 0 1 989.87 40.41L1020.86 73.26M905.50 522.7V79A47.15 47.15 0 0 1 985.35 45.08L1016.34 77.94"/><path d="M879 111.8H899M905.5 111.8H944.7" stroke-width="0.9"/><path d="M899 111.8L888.2 109.7V113.9ZM905.5 111.8L916.9 109.7V113.9Z" fill="#000" stroke-width="0.4"/><rect x="897.1" y="129.5" width="11.6" height="15.6" rx="0.8" fill="#fff"/><path d="M899 129.5V145.1M905.5 129.5V145.1M908.7 131.5H910.3V135H908.7M908.7 139.5H910.3V143H908.7" stroke-width="0.8"/><circle cx="902.8" cy="132.9" r="1.3" stroke-width="0.8"/><circle cx="902.8" cy="141.2" r="1.3" stroke-width="0.8"/><path d="M890.7 328V570.3M898.6 522.7V570.3" /><path d="M837.2 320.2H891M837.2 328H906.5M891.5 332.5H906.5M837.7 458.9H890.7M837.7 466.7H890.7M891 455.3H906.5"/><circle cx="894.8" cy="324.3" r="3.9" fill="#fff"/><circle cx="894.7" cy="462.9" r="3.9" fill="#fff"/><path d="M885.5 328V331H887.5V333.8H891.5M885.2 458.9V455.8H887.2V453.2H891.2V458.9" stroke-width="0.9"/><rect x="898" y="522.7" width="9.5" height="9.3" fill="#fff"/><path d="M900.5 522.7V532M905 522.7V532" stroke-width="0.8"/><rect x="893.9" y="531.6" width="12.5" height="23" fill="#fff"/><rect x="906.4" y="527.3" width="5.2" height="31.8" rx="0.8" fill="#fff"/><path d="M911.6 533H913.3V536H911.6M911.6 551H913.3V554H911.6" stroke-width="0.8"/><path d="M892.5 543.1H913.8" stroke-width="0.8"/><circle cx="902.3" cy="543.1" r="4.2" fill="#fff" stroke-width="1.3"/><path d="M900.8 543.1H903.8" stroke-width="0.8"/><path d="M839 570.3H957.2"/><path d="M860.2 570.4l-9.1 9.1M869.4 570.4l-9.1 9.1M878.5 570.4l-9.1 9.1M887.7 570.4l-9.1 9.1M896.8 570.4l-9.1 9.1M906.0 570.4l-9.1 9.1M915.2 570.4l-9.1 9.1M924.3 570.4l-9.1 9.1M933.5 570.4l-9.1 9.1M942.6 570.4l-9.1 9.1" stroke-width="1.2"/></g><g transform="translate(1053.5 109.8) rotate(-44)" fill="none" stroke="#000" stroke-width="1.0" stroke-linejoin="round"><rect x="-6.7" y="-50.8" width="13.4" height="8.9" fill="#fff"/><path d="M-4.3-50.8V-42M-0.6-50.8V-42M0.8-50.8V-42M4.3-50.8V-42"/><path d="M-19.5-37.7C-17-41 -14-42.2 -11-42.2H11C14-42.2 17-41 19.5-37.7Z" fill="#111"/><path d="M-13-39.2H12" stroke="#fff" stroke-width="0.5" stroke-dasharray="1.2 0.8"/><rect x="-25.3" y="-37.7" width="50.8" height="6.8" rx="1" fill="#fff"/><path d="M-25.3-36.3H25.5M-25.3-33.2H25.5M-19-37.7V-30.9M19-37.7V-30.9"/><path d="M-24.3-30.9V-17.3H-21V-30.9M-20.3-30.9V-10.5M-17.8-30.9V-10.5M-14.1-30.9V-11M-13.5-30.3V-14.2H11.2V-30.3Z" /><path d="M25.5-30.9V-17.3H21.1V-30.9M20.3-30.9V-10.5M16.5-30.9V-10.5M12.4-30.3V-11"/><path d="M-15.2-10.8L-13.5-14.2H11.2L14.6-10.8Z" fill="#111"/><path d="M-61.8 0C-58-5 -42-9.9 -21-9.9H21C42-9.9 58-5 61.8 0Z" fill="#fff" stroke-width="1.60"/><path d="M-9.2 -9.9Q-10.8 -4.4 -11.6 0M9.2 -9.9Q10.8 -4.4 11.6 0M-13.9 -9.8Q-16.1 -4.4 -17.3 0M13.9 -9.8Q16.1 -4.4 17.3 0M-18.0 -9.7Q-20.9 -4.4 -22.5 0M18.0 -9.7Q20.9 -4.4 22.5 0M-21.8 -9.6Q-25.4 -4.3 -27.3 0M21.8 -9.6Q25.4 -4.3 27.3 0M-25.4 -9.4Q-29.6 -4.2 -31.8 0M25.4 -9.4Q29.6 -4.2 31.8 0M-28.9 -9.2Q-33.6 -4.1 -36.1 0M28.9 -9.2Q33.6 -4.1 36.1 0M-32.2 -8.9Q-37.5 -4.0 -40.3 0M32.2 -8.9Q37.5 -4.0 40.3 0M-35.5 -8.7Q-41.2 -3.9 -44.3 0M35.5 -8.7Q41.2 -3.9 44.3 0M-38.6 -8.3Q-44.9 -3.7 -48.2 0M38.6 -8.3Q44.9 -3.7 48.2 0M-41.7 -7.9Q-48.4 -3.6 -52.1 0M41.7 -7.9Q48.4 -3.6 52.1 0M-44.7 -7.5Q-51.9 -3.4 -55.8 0M44.7 -7.5Q51.9 -3.4 55.8 0M-47.6 -6.9Q-55.3 -3.1 -59.5 0M47.6 -6.9Q55.3 -3.1 59.5 0" stroke-width="1.35"/><path d="M-2.6-10V0H0.2V-10Z" fill="#111"/><rect x="-61.8" y="0" width="123.6" height="1.9" fill="#fff"/><path d="M-61.6 1.9L-58.6 8.6H-48V11.1H48.3V8.6H58.6L61.6 1.9Z" fill="#111"/><path d="M-54 3.3H-22.5L-20.6 7.9H-51.5Z" fill="#fff"/><path d="M29 3.3H55.8L53.3 7.9H27.2Z" fill="#fff"/><path d="M-16.6 3.2h3.0l-0.4 5h-2.4zM-11.3 3.2h1.9l-0.4 5h-1.3zM-7.1 3.2h3.0l-0.4 5h-2.4zM-1.8 3.2h1.9l-0.4 5h-1.3zM2.4 3.2h3.0l-0.4 5h-2.4zM7.7 3.2h1.9l-0.4 5h-1.3zM11.9 3.2h3.0l-0.4 5h-2.4zM17.2 3.2h1.9l-0.4 5h-1.3zM21.4 3.2h3.0l-0.4 5h-2.4z" fill="#fff" stroke="none"/><path d="M-47 9.8H-20M-12 9.8H-3M3 9.8H28M34 9.8H47" stroke="#fff" stroke-width="0.6"/><path d="M-38 11.4C-20 17.6 20 17.6 37 11.4"/></g><g stroke="#000" stroke-width="1.1" fill="none"><path d="M977.7 378.4H1130.9"/><path d="M1001.1 378.4l-9.5 9.25M1010.3 378.4l-9.5 9.25M1019.5 378.4l-9.5 9.25M1028.6 378.4l-9.5 9.25M1037.8 378.4l-9.5 9.25M1047.0 378.4l-9.5 9.25M1056.2 378.4l-9.5 9.25M1065.4 378.4l-9.5 9.25M1074.5 378.4l-9.5 9.25M1083.7 378.4l-9.5 9.25M1092.9 378.4l-9.5 9.25M1102.1 378.4l-9.5 9.25M1111.3 378.4l-9.5 9.25" stroke-width="1.2"/></g><g transform="translate(1044.4 311.4) rotate(90)"><g fill="none" stroke="#000" stroke-width="1.0" stroke-linejoin="round"><rect x="-5.8" y="-54.2" width="11.8" height="11.5" fill="#fff"/><path d="M-5.8-51.6H6M-5.8-50.4H6" /><path d="M-4-50V-43M-2-50V-43M0-50V-43M2-50V-43M4-50V-43" stroke-width="0.6"/><path d="M-44-38Q0-46.5 44-38" fill="#fff"/><path d="M-40-39.4Q0-45.8 40-39.4" stroke-dasharray="1.1 0.9" stroke-width="1.7"/><rect x="-49" y="-38" width="98" height="6.8" rx="0.8" fill="#fff" stroke-width="1.1"/><path d="M-46.5-38V-31.2M46.5-38V-31.2M-49-33.6H49" stroke-width="0.6"/><path d="M-44.5-31.2V-13Q-44.5-9.6 -41-9.6H41Q44.5-9.6 44.5-13V-31.2" fill="#fff" stroke-width="1.2"/><path d="M-43.3-31.2V-11" stroke-width="1.3"/><path d="M-37-31.2V-11" stroke-width="0.8"/><path d="M-35.8-31.2V-11" stroke-width="1.3"/><path d="M-21-31.2V-11" stroke-width="0.8"/><path d="M-19.8-31.2V-11" stroke-width="1.3"/><path d="M-14-31.2V-11" stroke-width="0.8"/><path d="M14-31.2V-11" stroke-width="1.3"/><path d="M19.8-31.2V-11" stroke-width="0.8"/><path d="M21-31.2V-11" stroke-width="1.3"/><path d="M35.8-31.2V-11" stroke-width="0.8"/><path d="M37-31.2V-11" stroke-width="1.3"/><path d="M43.3-31.2V-11" stroke-width="0.8"/><path d="M-27-16H-22V-11H-27ZM22-16H27V-11H22ZM-8-16H-4V-11H-8Z" stroke-width="0.8"/><path d="M-62.2 0C-58-5 -42-9.8 -21-9.8H21C42-9.8 58-5 62.2 0Z" fill="#fff" stroke-width="1.1"/><path d="M-6.7 -9.8Q-8.1 -4.9 -8.6 0M6.7 -9.8Q8.1 -4.9 8.6 0M-10.8 -9.7Q-13.1 -4.9 -13.8 0M10.8 -9.7Q13.1 -4.9 13.8 0M-14.6 -9.7Q-17.7 -4.8 -18.7 0M14.6 -9.7Q17.7 -4.8 18.7 0M-18.2 -9.6Q-22.1 -4.8 -23.3 0M18.2 -9.6Q22.1 -4.8 23.3 0M-21.6 -9.5Q-26.4 -4.7 -27.7 0M21.6 -9.5Q26.4 -4.7 27.7 0M-25.0 -9.3Q-30.5 -4.7 -32.1 0M25.0 -9.3Q30.5 -4.7 32.1 0M-28.3 -9.1Q-34.5 -4.6 -36.3 0M28.3 -9.1Q34.5 -4.6 36.3 0M-31.5 -8.9Q-38.4 -4.5 -40.4 0M31.5 -8.9Q38.4 -4.5 40.4 0M-34.7 -8.7Q-42.2 -4.3 -44.4 0M34.7 -8.7Q42.2 -4.3 44.4 0M-37.8 -8.4Q-46.0 -4.2 -48.4 0M37.8 -8.4Q46.0 -4.2 48.4 0M-40.8 -8.0Q-49.7 -4.0 -52.3 0M40.8 -8.0Q49.7 -4.0 52.3 0M-43.8 -7.6Q-53.4 -3.8 -56.2 0M43.8 -7.6Q53.4 -3.8 56.2 0M-46.8 -7.1Q-57.0 -3.5 -60.0 0M46.8 -7.1Q57.0 -3.5 60.0 0" stroke-width="0.8"/><rect x="-62.2" y="-0.2" width="124.4" height="2.6" fill="#fff" stroke-width="1.1"/><path d="M-62 2.4L-59.5 9.6H-51V12.6H51V9.6H59.5L62 2.4Z" fill="#fff"/><path d="M-58.5 3.6H-27L-24.5 8.4H-55.5ZM27 3.6H58.5L55.5 8.4H24.5ZM-51 9.6H51" stroke-width="0.9"/><path d="M-61 2.8L-59 9.2H-56.4L-58.6 3ZM61 2.8L59 9.2H56.4L58.6 3Z" fill="#333" stroke-width="0.6"/><path d="M-22.5 3.4h3.4v5.8h-3.4zM-17.4 3.4h3.4v5.8h-3.4zM-12.3 3.4h3.4v5.8h-3.4zM-7.2 3.4h3.4v5.8h-3.4zM-2.1 3.4h3.4v5.8h-3.4zM3.0 3.4h3.4v5.8h-3.4zM8.1 3.4h3.4v5.8h-3.4zM13.2 3.4h3.4v5.8h-3.4zM18.3 3.4h3.4v5.8h-3.4z" stroke-width="0.9"/><path d="M-36 12.6V14H-30V12.6M30 12.6V14H36V12.6" stroke-width="0.7"/><path d="M-47 12.8Q0 19.5 47 12.8" stroke-width="0.7"/></g></g><g stroke="#222" stroke-width="0.9" fill="#fff"><path d="M1059.5 318L1058.5 378.3H1074.5L1073.5 318Z"/><path d="M1058.8 359.5H1074.2M1062 359.5V364" fill="none"/><circle cx="1063" cy="312" r="9.6" fill="#fff" stroke-width="1.2"/><circle cx="1063" cy="312" r="8.3" fill="none" stroke-dasharray="1 0.9" stroke-width="1.6"/><circle cx="1063" cy="312" r="5.6" fill="#333"/><path d="M1058.5 314.5L1067.5 309.5" stroke="#fff" stroke-width="1.4"/></g><path d="M1072 306.5C1086 299 1097 295.2 1107 295.4C1125 296 1140 323.6 1158.5 323.6C1168 323.6 1178 317 1186 312" stroke="#000" stroke-width="1" fill="none"/><g opacity="0.999"><text font-size="19.8" font-weight="400"><tspan x="51.60" y="275.0" font-size="22.6" textLength="9.35" lengthAdjust="spacingAndGlyphs" fill="#222">B</tspan><tspan x="63.32" y="275.0" font-size="22.6" textLength="7.01" lengthAdjust="spacingAndGlyphs" fill="#222">1</tspan> <tspan text-anchor="middle" x="93.2 114.3 135.4" y="275.3">吸顶式</tspan></text><text font-size="19.8" font-weight="400"><tspan x="227.30" y="258.8" font-size="22.6" textLength="9.35" lengthAdjust="spacingAndGlyphs" fill="#222">B</tspan><tspan x="239.02" y="258.8" font-size="22.6" textLength="7.01" lengthAdjust="spacingAndGlyphs" fill="#222">2</tspan> <tspan text-anchor="middle" x="268.9 290.0 311.1" y="259.1">吸顶式</tspan></text><text font-size="19.8" font-weight="400"><tspan text-anchor="middle" x="182.7" y="286.3">（</tspan><tspan x="193.72" y="286.0" font-size="22.6" textLength="10.12" lengthAdjust="spacingAndGlyphs" fill="#222">U</tspan><tspan text-anchor="middle" x="214.6 235.7 256.8 277.9 299.0 320.1 341.2 363.5" y="286.3">型支架可调角度）</tspan></text><text font-size="19.8" font-weight="400"><tspan x="420.60" y="274.4" font-size="22.6" textLength="9.35" lengthAdjust="spacingAndGlyphs" fill="#222">C</tspan> <tspan text-anchor="middle" x="451.7 472.8 493.9" y="274.7">管吊式</tspan></text><text font-size="19.8" font-weight="400"><tspan x="44.42" y="638.8" font-size="22.6" textLength="10.12" lengthAdjust="spacingAndGlyphs" fill="#222">D</tspan><tspan x="56.52" y="638.8" font-size="22.6" textLength="7.01" lengthAdjust="spacingAndGlyphs" fill="#222">1</tspan> <tspan text-anchor="middle" x="86.4 107.5 128.6" y="639.1">吸壁式</tspan></text><text font-size="19.8" font-weight="400"><tspan x="239.22" y="638.8" font-size="22.6" textLength="10.12" lengthAdjust="spacingAndGlyphs" fill="#222">D</tspan><tspan x="251.32" y="638.8" font-size="22.6" textLength="7.01" lengthAdjust="spacingAndGlyphs" fill="#222">2</tspan> <tspan text-anchor="middle" x="281.2 302.3 323.4" y="639.1">吸壁式</tspan></text><text font-size="19.8" font-weight="400"><tspan x="420.42" y="621.8" font-size="22.6" textLength="10.12" lengthAdjust="spacingAndGlyphs" fill="#222">D</tspan><tspan x="432.52" y="621.8" font-size="22.6" textLength="7.01" lengthAdjust="spacingAndGlyphs" fill="#222">3</tspan> <tspan text-anchor="middle" x="462.4 483.5 504.6" y="622.1">吸壁式</tspan></text><text font-size="19.8" font-weight="400"><tspan text-anchor="middle" x="387.1" y="648.6">（</tspan><tspan x="398.12" y="648.3" font-size="22.6" textLength="10.12" lengthAdjust="spacingAndGlyphs" fill="#222">U</tspan><tspan text-anchor="middle" x="419.0 440.1 461.2 482.3 503.4 524.5 545.6 567.9" y="648.6">型支架可调角度）</tspan></text><text font-size="19.8" font-weight="400"><tspan x="589.09" y="638.8" font-size="22.6" textLength="8.56" lengthAdjust="spacingAndGlyphs" fill="#222">E</tspan> <tspan text-anchor="middle" x="619.7 640.8 661.9 683.0 704.1" y="639.1">法栏立杆式</tspan></text><text font-size="19.8" font-weight="400"><tspan x="817.68" y="638.6" font-size="22.6" textLength="7.79" lengthAdjust="spacingAndGlyphs" fill="#222">F</tspan> <tspan text-anchor="middle" x="847.9 869.0 890.1 911.2 932.3" y="638.9">护栏立杆式</tspan></text><text font-size="19.8" font-weight="400"><tspan x="1023.12" y="447.6" font-size="22.6" textLength="10.12" lengthAdjust="spacingAndGlyphs" fill="#222">A</tspan> <tspan text-anchor="middle" x="1054.5 1075.6" y="447.9">坐式</tspan></text><text font-size="19.8" font-weight="400"><tspan text-anchor="middle" x="968.6" y="474.3">（</tspan><tspan x="979.72" y="474.0" font-size="22.6" textLength="10.12" lengthAdjust="spacingAndGlyphs" fill="#222">U</tspan><tspan text-anchor="middle" x="1000.6 1021.7 1042.8 1063.9 1085.0 1106.1 1127.2 1149.5" y="474.3">型支架可调角度）</tspan></text><g fill="#333" font-weight="400"><text transform="translate(597 329) rotate(-90)" font-size="15" textLength="65.5" lengthAdjust="spacingAndGlyphs" fill="#333">2500-3000</text><text x="668.5" y="110.6" font-size="14" textLength="24.5" lengthAdjust="spacingAndGlyphs" fill="#333">Ø22</text><text x="920.5" y="110.6" font-size="14" textLength="24.5" lengthAdjust="spacingAndGlyphs" fill="#333">Ø22</text><text x="765.4" y="359.4" font-size="14.5" text-anchor="middle">200</text><text x="765.2" y="377" font-size="14.5" text-anchor="middle">150</text><text transform="translate(708.4 418.2) rotate(-90)" font-size="14.5" text-anchor="middle">200</text><text transform="translate(724.4 417.7) rotate(-90)" font-size="14.5" text-anchor="middle">150</text><text x="737.5" y="468.6" font-size="14" textLength="37" lengthAdjust="spacingAndGlyphs">4xØ20</text></g></g></svg></body></html>
